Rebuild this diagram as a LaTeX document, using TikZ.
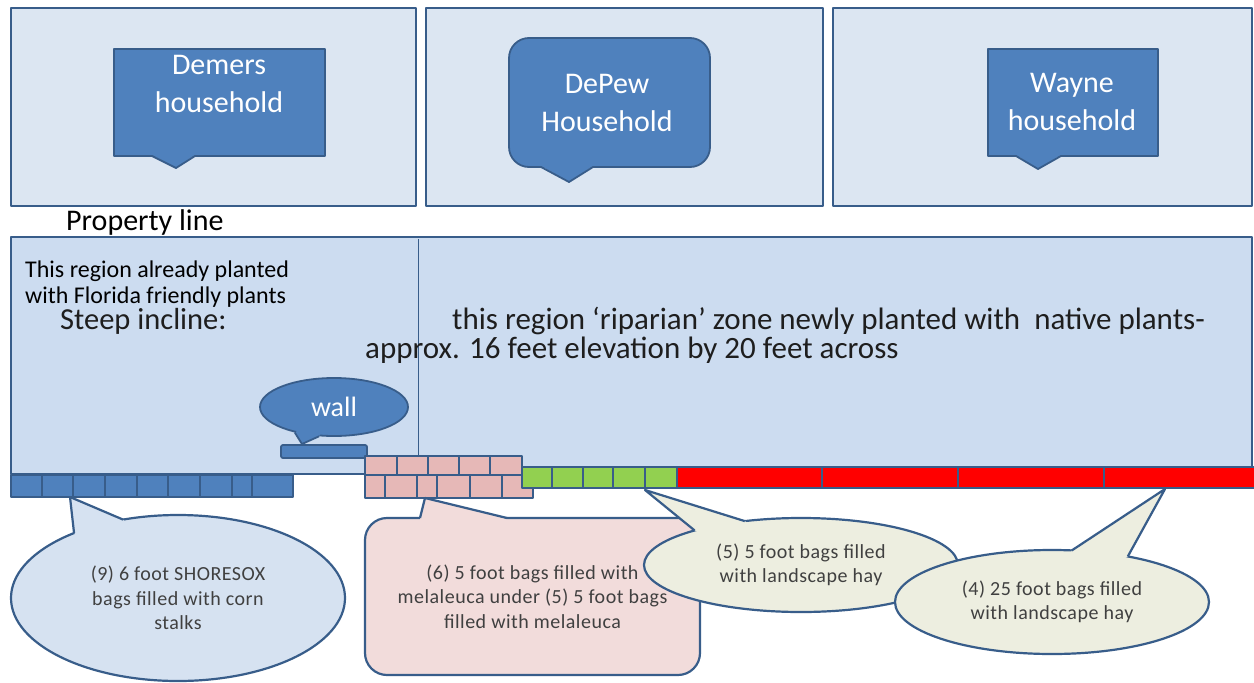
\documentclass[tikz,border=0pt]{standalone}
\usepackage{fontspec}
\setmainfont{Carlito}
\usetikzlibrary{calc,shapes.geometric}
\definecolor{bord}{RGB}{56,93,138}
\definecolor{topfill}{RGB}{220,230,242}
\definecolor{bigfill}{RGB}{204,220,240}
\definecolor{calblue}{RGB}{79,129,189}
\definecolor{ellblue}{RGB}{214,226,241}
\definecolor{pinkfill}{RGB}{242,220,219}
\definecolor{brick}{RGB}{230,184,183}
\definecolor{beige}{RGB}{237,238,224}
\definecolor{bagred}{RGB}{255,0,0}
\definecolor{baggreen}{RGB}{146,208,80}
\definecolor{txtdark}{RGB}{64,64,64}
\definecolor{txtbig}{RGB}{30,30,30}
\begin{document}
\begin{tikzpicture}[x=1pt,y=-1pt,line join=round,
  lotbox/.style={draw=bord,line width=2.5pt,fill=topfill,inner sep=0pt,outer sep=0pt},
  bigbox/.style={draw=bord,line width=2.5pt,fill=bigfill,inner sep=0pt,outer sep=0pt},
  hcall/.style={draw=bord,line width=1.8pt,fill=calblue,inner sep=0pt,outer sep=0pt},
  htext/.style={text=white,align=center,font=\fontsize{30}{38}\selectfont,inner sep=0pt},
  bigtext/.style={text=txtbig,inner sep=0pt,anchor=base west,font=\fontsize{31}{36}\selectfont},
  smalltext/.style={text=black,inner sep=0pt,anchor=base west,font=\fontsize{24}{27}\selectfont},
  bcall/.style={draw=bord,line width=2.2pt,inner sep=0pt,outer sep=0pt,text=txtdark,align=center,font=\fontsize{20}{24.5}\selectfont\addfontfeature{LetterSpace=2.5}},
  bagline/.style={draw=bord,line width=2.2pt}]
\fill[white] (0,0) rectangle (1254,683);
\useasboundingbox (0,0) rectangle (1254,683);

% lots
\node[lotbox,minimum width=405pt,minimum height=198pt] (lot1) at (213.5,107) {};
\node[lotbox,minimum width=397pt,minimum height=198pt] (lot2) at (624.5,107) {};
\node[lotbox,minimum width=419pt,minimum height=198pt] (lot3) at (1042.5,107) {};

% household callouts
\node[hcall,minimum width=211pt,minimum height=107pt] (dem) at (219.5,102.5) {};
\coordinate (demtip) at (176,168);
\fill[calblue] (152,155) -- (demtip) -- (195,155) -- (195,150) -- (152,150) -- cycle;
\draw[bord,line width=1.8pt] (152,156) -- (demtip) -- (195,156);
\node[htext,anchor=base] (demt) at (219,112) {Demers\\household};

\node[hcall,rounded corners=20pt,minimum width=201pt,minimum height=129pt] (dep) at (609.5,102.5) {};
\coordinate (deptip) at (569,182);
\fill[calblue] (541,166) -- (deptip) -- (593,166) -- (593,161) -- (541,161) -- cycle;
\draw[bord,line width=1.8pt] (541,167) -- (deptip) -- (593,167);
\node[htext,anchor=base] (dept) at (607,131) {DePew\\Household};

\node[hcall,minimum width=170pt,minimum height=107pt] (way) at (1073,102.5) {};
\coordinate (waytip) at (1038,169);
\fill[calblue] (1016,155) -- (waytip) -- (1061,155) -- (1061,150) -- (1016,150) -- cycle;
\draw[bord,line width=1.8pt] (1016,156) -- (waytip) -- (1061,156);
\node[htext,anchor=base] (wayt) at (1072,130) {Wayne\\household};

\node[text=black,inner sep=0pt,anchor=base west,font=\fontsize{30}{32}\selectfont] (prop) at (66,230) {Property line};

% big region
\node[bigbox,minimum width=1241pt,minimum height=237pt] (big) at (631.5,355.5) {};
\coordinate (divtop) at (418,239);
\coordinate (divbot) at (418,467);
\draw[bord,line width=1pt] (divtop) -- (divbot);

\node[smalltext] (t1) at (25,277) {This region already planted};
\node[smalltext] (t2) at (25,303) {with Florida friendly plants};
\node[bigtext,font=\fontsize{30.5}{34}\selectfont] (steep) at (60,329) {Steep incline:};
\node[bigtext] (rip) at (452,329) {this region ‘riparian’ zone newly planted with~~native plants-};
\node[bigtext] (apx) at (365,358) {approx. 16 feet elevation by 20 feet across};

% wall
\node[ellipse,draw=bord,line width=1.8pt,fill=calblue,inner sep=0pt,minimum width=148pt,minimum height=58pt,text=white,font=\fontsize{28}{32}\selectfont] (wall) at (334,407) {wall};
\coordinate (walltip) at (302,444);
\fill[calblue] (wall.213) -- (walltip) -- (wall.243) -- ($(wall.243)!4pt!(wall.center)$) -- ($(wall.213)!4pt!(wall.center)$) -- cycle;
\draw[bord,line width=1.8pt] (wall.213) -- (walltip) -- (wall.243);
\draw[bord,line width=1.8pt,fill=calblue,rounded corners=2pt] (281,445) rectangle (367,458);

% bags
\foreach \a/\b in {11/42,42/73,73/105,105/137,137/168,168/200,200/232,232/252,252/293}
  \draw[bagline,fill=calblue] (\a,475) rectangle (\b,497);
\foreach \a/\b in {365/397,397/428,428/459,459/490,490/522}
  \draw[bagline,fill=brick] (\a,456) rectangle (\b,475);
\foreach \a/\b in {365/385,385/417,417/437,437/470,470/502,502/533}
  \draw[bagline,fill=brick] (\a,475) rectangle (\b,498);
\foreach \a/\b in {522/552,552/583,583/613,613/645,645/677}
  \draw[bagline,fill=baggreen] (\a,467) rectangle (\b,488);
\foreach \a/\b in {677/822,822/958,958/1104,1104/1256}
  \draw[bagline,fill=bagred] (\a,467) rectangle (\b,488);

% (9) callout
\node[bcall,ellipse,fill=ellblue,minimum width=334pt,minimum height=166pt] (c9) at (178,598) {(9) 6 foot SHORESOX\\bags filled with corn\\stalks};
\coordinate (tip9) at (70,497);
\fill[ellblue] (c9.148) -- (tip9) -- (c9.125) -- ($(c9.125)!5pt!(c9.center)$) -- ($(c9.148)!5pt!(c9.center)$) -- cycle;
\draw[bord,line width=2.2pt] (c9.148) -- (tip9) -- (c9.125);

% pink callout
\node[bcall,rectangle,rounded corners=22pt,fill=pinkfill,minimum width=335pt,minimum height=157pt] (c6) at (532.5,596.5) {(6) 5 foot bags filled with\\melaleuca under (5) 5 foot bags\\filled with melaleuca};
\coordinate (tip6) at (425,498);
\fill[pinkfill] (420,519) -- (tip6) -- (507,519) -- (507,524) -- (420,524) -- cycle;
\draw[bord,line width=2.2pt] (420,518) -- (tip6) -- (507,518);

% (5) callout
\node[bcall,ellipse,fill=beige,minimum width=314pt,minimum height=94pt] (c5) at (801,565) {(5) 5 foot bags filled\\with landscape hay};
\coordinate (tip5) at (645,490);
\fill[beige] (c5.162) -- (tip5) -- (c5.142) -- ($(c5.142)!5pt!(c5.center)$) -- ($(c5.162)!5pt!(c5.center)$) -- cycle;
\draw[bord,line width=2.2pt] (c5.162) -- (tip5) -- (c5.142);

% (4) callout
\node[bcall,ellipse,fill=beige,minimum width=314pt,minimum height=104pt] (c4) at (1052,602) {(4) 25 foot bags filled\\with landscape hay};
\coordinate (tip4) at (1165,489);
\fill[beige] (c4.69) -- (tip4) -- (c4.31) -- ($(c4.31)!5pt!(c4.center)$) -- ($(c4.69)!5pt!(c4.center)$) -- cycle;
\draw[bord,line width=2.2pt] (c4.69) -- (tip4) -- (c4.31);
\end{tikzpicture}
\end{document}
